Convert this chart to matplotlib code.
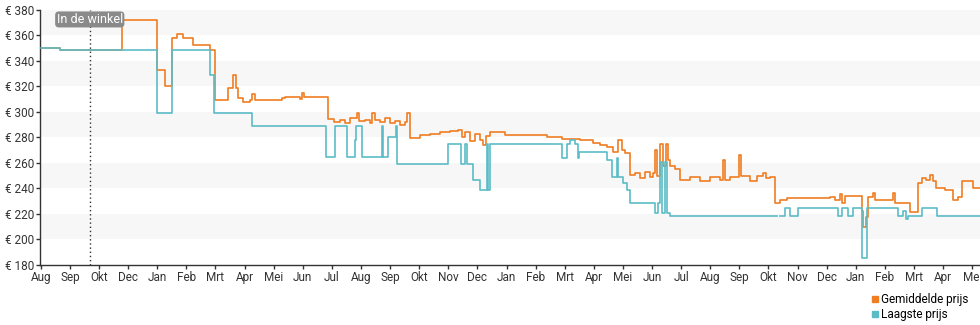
import numpy as np
import matplotlib
matplotlib.use('Agg')
import matplotlib.pyplot as plt
from matplotlib.lines import Line2D

plt.rcParams['font.family'] = ['Roboto', 'DejaVu Sans']

# x positions are in months since the first tick (Aug)
MONTH_LABELS = ['Aug', 'Sep', 'Okt', 'Dec', 'Jan', 'Feb', 'Mrt', 'Apr', 'Mei', 'Jun', 'Jul',
                'Aug', 'Sep', 'Okt', 'Nov', 'Dec', 'Jan', 'Feb', 'Mrt', 'Apr', 'Mei', 'Jun',
                'Jul', 'Aug', 'Sep', 'Okt', 'Nov', 'Dec', 'Jan', 'Feb', 'Mrt', 'Apr', 'Mei']

Y_TICKS = [180, 200, 220, 240, 260, 280, 300, 320, 340, 360, 380]

IN_STORE_MONTH = 1.68

# Laagste prijs
low_x = [0.0, 0.65, 3.99, 4.50, 5.81, 5.95, 7.25, 9.79, 10.10, 10.52, 10.79, 10.82, 11.03,
         11.72, 11.75, 11.92, 12.20, 12.23, 13.99, 14.43, 14.57, 14.64, 14.85, 15.09, 15.33,
         15.36, 15.43, 17.90, 18.08, 18.18, 18.35, 18.45, 18.49, 19.45, 19.62, 19.79, 19.83,
         20.00, 20.14, 20.24, 21.10, 21.20, 21.27, 21.34, 21.44, 21.51, 21.62, 25.29, 25.40,
         25.57, 25.74, 26.01, 27.39, 27.53, 27.73, 27.90, 28.21, 28.38, 29.45, 29.62, 29.73,
         29.79, 30.27, 30.79, 32.27]
low_y = [350, 349, 299, 349, 329, 299, 289, 265, 289, 265, 278, 289, 265,
         289, 265, 280, 289, 259, 275, 259, 275, 259, 247, 239, 275,
         239, 275, 264, 275, 278, 275, 264, 269, 262, 249, 264, 249,
         244, 239, 229, 221, 229, 261, 221, 261, 221, 218.5, np.nan, 218.5,
         225, 218.5, 225, 218.5, 225, 218.5, 225, 185.5, 225, 218.5, 222, 216,
         218.5, 225, 218.5, 218.5]

# Gemiddelde prijs
avg_x = [0.0, 0.65, 2.78, 3.99, 4.26, 4.50, 4.67, 4.88, 5.22, 5.81, 5.98, 6.43, 6.60, 6.70, 6.77,
         6.94, 7.18, 7.25, 7.35, 8.28, 8.38, 8.90, 8.97, 9.04, 9.86, 10.07, 10.27, 10.45,
         10.62, 10.86, 10.93, 11.13, 11.31, 11.37, 11.48, 11.65, 11.82, 11.99, 12.16, 12.34,
         12.51, 12.58, 12.68, 13.02, 13.37, 13.71, 14.05, 14.33, 14.47, 14.57, 14.74, 14.91,
         15.09, 15.19, 15.29, 15.43, 15.95, 16.80, 17.39, 17.90, 18.52, 18.97, 19.21, 19.45,
         19.66, 19.83, 19.97, 20.07, 20.24, 20.41, 20.58, 20.76, 20.93, 21.03, 21.10, 21.17,
         21.27, 21.37, 21.48, 21.55, 21.62, 21.79, 21.96, 22.30, 22.65, 22.99, 23.33, 23.44,
         23.51, 23.68, 23.99, 24.05, 24.36, 24.60, 24.81, 24.91, 25.05, 25.22, 25.40, 25.64,
         27.11, 27.29, 27.46, 27.53, 27.63, 28.14, 28.21, 28.25, 28.35, 28.42, 28.59, 28.66,
         29.28, 29.35, 29.86, 30.14, 30.27, 30.41, 30.55, 30.65, 30.76, 31.07, 31.34, 31.51,
         31.65, 32.03, 32.27]
avg_y = [350, 349, 372, 333, 320, 358, 361, 358, 352.5, 349, 309.4, 319, 329, 319, 311,
         308, 309.4, 314, 309.4, 311, 312, 310, 314.6, 312, 294.5, 292, 294, 291,
         295, 299, 293, 294, 291, 299, 294, 292, 295, 291, 293, 290,
         292, 299, 279.6, 282, 283, 284, 285, 286, 280, 284, 277, 283,
         278, 274, 281, 284.6, 282, 282, 280.7, 278.8, 278, 275.7, 274, 272.8,
         269, 278, 270, 268, 250.6, 252, 248, 253, 249, 252, 270, 250,
         275, 258, 275, 262, 258, 255, 246.7, 249, 246, 249, 246.7, 262,
         247, 249, 266, 250, 246, 250, 252, 248, 249, 228.6, 231, 232.8,
         233, 231, 236, 229, 234, 234, 222, 210, 218, 233, 236.6, 231,
         236.6, 228.6, 221.8, 244, 248, 247, 250.6, 246, 240, 239, 231, 233,
         246, 240, 240]

ORANGE = '#ef7d22'
TEAL = '#5bbcc7'

fig = plt.figure(figsize=(9.8, 3.25), dpi=100)
ax = fig.add_axes([40 / 980, 60 / 325, 940 / 980, 255 / 325])

# alternating background bands
for lo in Y_TICKS[1::2]:
    ax.axhspan(lo, lo + 20, color='#f7f7f7', lw=0, zorder=0)

ax.plot(avg_x, avg_y, drawstyle='steps-post', color=ORANGE, lw=1.2, zorder=2)
ax.plot(low_x, low_y, drawstyle='steps-post', color=TEAL, lw=1.2, zorder=3)

ax.axvline(IN_STORE_MONTH, color='#333333', lw=1, ls=(0, (1, 2)), zorder=4)
ax.text(IN_STORE_MONTH, 0.963, 'In de winkel', transform=ax.get_xaxis_transform(),
        ha='center', va='center', fontsize=9, color='white', zorder=5,
        bbox=dict(boxstyle='round,pad=0.12,rounding_size=0.3', fc='#8a8a8a', ec='none'))

ax.set_xlim(-0.03, 32.27)
ax.set_ylim(180, 380)
ax.set_xticks(range(len(MONTH_LABELS)))
ax.set_xticklabels(MONTH_LABELS)
ax.set_yticks(Y_TICKS)
ax.set_yticklabels([f'€ {v}' for v in Y_TICKS])
ax.tick_params(axis='both', labelsize=8.5, colors='#333333', length=3, width=1, pad=1)

for side in ['top', 'right']:
    ax.spines[side].set_visible(False)
for side in ['left', 'bottom']:
    ax.spines[side].set_color('#333333')
    ax.spines[side].set_linewidth(1)

handles = [Line2D([], [], marker='s', ls='none', color=ORANGE, markersize=5),
           Line2D([], [], marker='s', ls='none', color=TEAL, markersize=5)]
fig.legend(handles, ['Gemiddelde prijs', 'Laagste prijs'], loc='lower right',
           bbox_to_anchor=(0.995, -0.01), frameon=False, fontsize=8.5,
           handletextpad=0.1, handlelength=0.8, labelspacing=0.15, borderaxespad=0.2)

fig.savefig('out.png', dpi=100)
